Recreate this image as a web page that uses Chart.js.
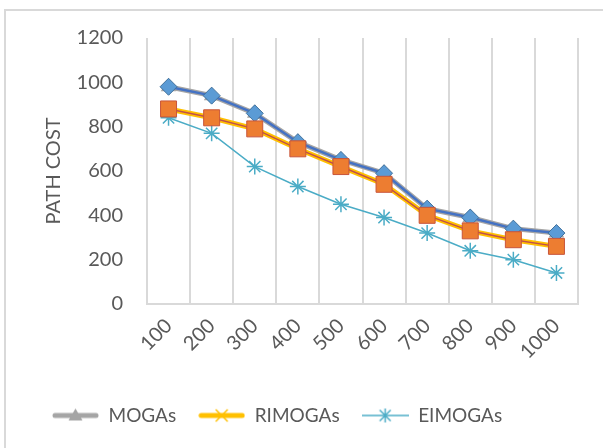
<!DOCTYPE html>
<html>
<head>
<meta charset="utf-8">
<script src="https://cdn.jsdelivr.net/npm/chart.js@4/dist/chart.umd.min.js"></script>
<style>
html,body{margin:0;padding:0;background:#fff;}
#wrap{position:relative;width:603px;height:448px;}
</style>
</head>
<body>
<div id="wrap"><canvas id="c" width="603" height="448"></canvas></div>
<script>
// ---- data ----
const categories = ['100','200','300','400','500','600','700','800','900','1000'];
const mogas   = [980, 940, 860, 730, 650, 590, 430, 390, 340, 320];
const rimogas = [880, 840, 790, 700, 620, 540, 400, 330, 290, 260];
const eimogas = [840, 770, 620, 530, 450, 390, 320, 240, 200, 140];
const yTicks  = [0, 200, 400, 600, 800, 1000, 1200];
const seriesNames = ['MOGAs', 'RIMOGAs', 'EIMOGAs'];

const FONT = 'Lato';
const TXT = '#595959';
const GRID = '#d9d9d9';

function legendImage(kind){
  const cv = document.createElement('canvas');
  cv.width = 47; cv.height = 20;
  const g = cv.getContext('2d');
  const cy = 10, cx = 23.5;
  g.lineCap = 'round';
  if (kind === 0){
    g.strokeStyle = '#a5a5a5'; g.lineWidth = 5;
    g.beginPath(); g.moveTo(3, cy); g.lineTo(44, cy); g.stroke();
    g.fillStyle = '#a5a5a5';
    g.beginPath(); g.moveTo(cx, cy-7); g.lineTo(cx+7, cy+5); g.lineTo(cx-7, cy+5); g.closePath(); g.fill();
  } else if (kind === 1){
    g.strokeStyle = '#ffc000'; g.lineWidth = 5;
    g.beginPath(); g.moveTo(3, cy); g.lineTo(44, cy); g.stroke();
    g.lineWidth = 1.5; g.lineCap = 'butt';
    g.beginPath(); g.moveTo(cx-6, cy-6); g.lineTo(cx+6, cy+6); g.moveTo(cx+6, cy-6); g.lineTo(cx-6, cy+6); g.stroke();
  } else {
    g.strokeStyle = '#4bacc6'; g.lineWidth = 1.5; g.lineCap = 'butt';
    g.beginPath(); g.moveTo(0, cy); g.lineTo(47, cy); g.stroke();
    g.beginPath(); g.moveTo(cx, cy-7); g.lineTo(cx, cy+7);
    g.moveTo(cx-5.5, cy-5.5); g.lineTo(cx+5.5, cy+5.5); g.moveTo(cx+5.5, cy-5.5); g.lineTo(cx-5.5, cy+5.5); g.stroke();
  }
  return cv;
}
const legendImgs = [legendImage(0), legendImage(1), legendImage(2)];

const outerBorder = {
  id: 'outerBorder',
  beforeDraw(chart){
    const ctx = chart.ctx;
    ctx.save();
    ctx.strokeStyle = GRID; ctx.lineWidth = 2;
    ctx.beginPath();
    ctx.moveTo(5, 460); ctx.lineTo(5, 10); ctx.lineTo(620, 10);
    ctx.stroke();
    ctx.restore();
  },
  afterLayout(chart){
    const lg = chart.legend;
    if (lg){
      const w = lg.width; lg.left = 30; lg.right = 30 + w;
      lg.top -= 13; lg.bottom -= 13;
    }
  }
};

new Chart(document.getElementById('c'), {
  type: 'line',
  data: {
    labels: categories,
    datasets: [
      { label: seriesNames[0], data: mogas, borderColor: '#a5a5a5', backgroundColor: '#a5a5a5',
        borderWidth: 5, pointStyle: 'triangle', pointRadius: 9, pointBorderWidth: 0, order: 4, legendIdx: 0 },
      { label: '_blue', data: mogas, borderColor: '#4472c4', backgroundColor: '#5b9bd5',
        pointBorderColor: '#41719c', borderWidth: 2.5, pointStyle: 'rectRot', pointRadius: 8.5, pointBorderWidth: 1, order: 3 },
      { label: seriesNames[1], data: rimogas, borderColor: '#ffc000', backgroundColor: '#ffc000',
        borderWidth: 5, pointStyle: 'crossRot', pointRadius: 7, pointBorderWidth: 1.5, order: 2, legendIdx: 1 },
      { label: '_orange', data: rimogas, borderColor: '#c0504d', backgroundColor: '#ed7d31',
        pointBorderColor: '#c8553a', borderWidth: 1.5, pointStyle: 'rect', pointRadius: 11.3, pointBorderWidth: 1, order: 1 },
      { label: seriesNames[2], data: eimogas, borderColor: '#4bacc6', backgroundColor: '#4bacc6',
        borderWidth: 1.5, pointStyle: 'star', pointRadius: 8, pointBorderWidth: 1.5, order: 5, legendIdx: 2 }
    ]
  },
  options: {
    responsive: false,
    animation: false,
    layout: { padding: { top: 38, left: 0, right: 25, bottom: 0 } },
    elements: { line: { tension: 0 } },
    plugins: {
      tooltip: { enabled: false },
      legend: {
        position: 'bottom',
        align: 'start',
        labels: {
          font: { family: FONT, size: 19 },
          color: TXT,
          padding: 22,
          usePointStyle: true,
          pointStyleWidth: 47,
          boxHeight: 20,
          generateLabels(chart){
            return chart.data.datasets
              .map((d, i) => ({ d, i }))
              .filter(o => o.d.legendIdx !== undefined)
              .map(o => ({
                text: o.d.label, datasetIndex: o.i, pointStyle: legendImgs[o.d.legendIdx],
                fillStyle: o.d.borderColor, strokeStyle: o.d.borderColor, lineWidth: 0, hidden: false, fontColor: TXT
              }));
          }
        }
      }
    },
    scales: {
      x: {
        type: 'category',
        offset: true,
        grid: { offset: true, color: GRID, lineWidth: 2, drawTicks: false },
        border: { display: true, color: GRID, width: 2 },
        ticks: { font: { family: FONT, size: 20 }, color: TXT, maxRotation: 45, minRotation: 45, autoSkip: false, padding: 10 },
        afterFit(s){ s.height = 93; }
      },
      y: {
        min: 0, max: 1200,
        afterBuildTicks(s){ s.ticks = yTicks.map(v => ({ value: v })); },
        grid: { display: false, drawTicks: false },
        border: { display: false },
        ticks: { font: { family: FONT, size: 20 }, color: TXT, padding: 24, callback: v => String(v) },
        title: { display: true, text: 'PATH COST', font: { family: FONT, size: 20 }, color: TXT, padding: { top: 42, bottom: 0 } },
        afterFit(s){ s.width = 147; }
      }
    }
  },
  plugins: [outerBorder]
});
</script>
</body>
</html>
